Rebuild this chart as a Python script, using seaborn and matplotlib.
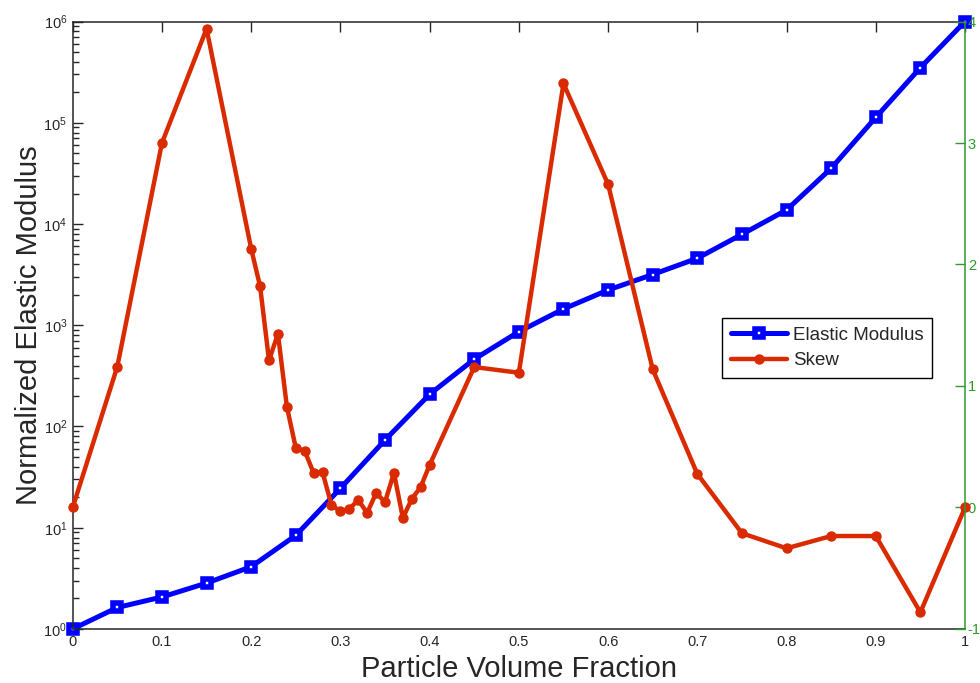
import matplotlib
matplotlib.use("Agg")
import matplotlib.pyplot as plt
from matplotlib.ticker import LogLocator, NullLocator, FixedLocator, FixedFormatter, NullFormatter
import seaborn as sns

# Elastic modulus (normalized) vs particle volume fraction
volume_fraction = [0.0, 0.05, 0.10, 0.15, 0.20, 0.25, 0.30, 0.35, 0.40, 0.45, 0.50,
                   0.55, 0.60, 0.65, 0.70, 0.75, 0.80, 0.85, 0.90, 0.95, 1.0]
elastic_modulus = [1.0, 1.63, 2.07, 2.84, 4.12, 8.4, 24.5, 73.5, 208, 462, 864,
                   1447, 2230, 3170, 4585, 7910, 13750, 35500, 113000, 350000, 1.0e6]

# Skew of the distribution (right axis)
skew_fraction = [0.0, 0.05, 0.10, 0.15, 0.20, 0.21, 0.22, 0.23, 0.24, 0.25, 0.26,
                 0.27, 0.28, 0.29, 0.30, 0.31, 0.32, 0.33, 0.34, 0.35, 0.36, 0.37,
                 0.38, 0.39, 0.40, 0.45, 0.50, 0.55, 0.60, 0.65, 0.70, 0.75, 0.80,
                 0.85, 0.90, 0.95, 1.0]
skew = [0.0, 1.16, 3.00, 3.94, 2.13, 1.82, 1.21, 1.43, 0.83, 0.49, 0.465,
        0.284, 0.29, 0.02, -0.03, -0.012, 0.062, -0.045, 0.119, 0.045, 0.284, -0.086,
        0.07, 0.169, 0.35, 1.156, 1.109, 3.49, 2.66, 1.137, 0.276, -0.212, -0.336,
        -0.235, -0.235, -0.863, 0.0]

x_ticks = [0.0, 0.1, 0.2, 0.3, 0.4, 0.5, 0.6, 0.7, 0.8, 0.9, 1.0]
x_tick_labels = ["0", "0.1", "0.2", "0.3", "0.4", "0.5", "0.6", "0.7", "0.8", "0.9", "1"]
left_ticks = [1, 10, 100, 1000, 1e4, 1e5, 1e6]
left_tick_labels = ["$10^{%d}$" % i for i in range(7)]
right_ticks = [-1, 0, 1, 2, 3, 4]
right_tick_labels = ["-1", "0", "1", "2", "3", "4"]

sns.set_style("white")
plt.rcParams["font.family"] = ["Liberation Sans", "DejaVu Sans"]
plt.rcParams["mathtext.fontset"] = "custom"
plt.rcParams["mathtext.rm"] = "Liberation Sans"
plt.rcParams["mathtext.default"] = "regular"
plt.rcParams["axes.unicode_minus"] = False

BLUE = "#0000FF"
RED = "#D92A00"
GREEN = "#2E9A2E"
AXIS = "#262626"

fig = plt.figure(figsize=(9.8, 6.83), dpi=100)
ax = fig.add_axes([0.0742, 0.0791, 0.9105, 0.8894])

sns.lineplot(x=volume_fraction, y=elastic_modulus, ax=ax, color=BLUE, lw=3.6,
             marker="s", markersize=6, markerfacecolor="white",
             markeredgecolor=BLUE, markeredgewidth=4.0, clip_on=False,
             label="Elastic Modulus", legend=False)
ax.set_yscale("log")
ax.set_xlim(0, 1)
ax.set_ylim(1, 1e6)

ax.xaxis.set_major_locator(FixedLocator(x_ticks))
ax.xaxis.set_major_formatter(FixedFormatter(x_tick_labels))
ax.xaxis.set_minor_locator(NullLocator())
ax.yaxis.set_major_locator(FixedLocator(left_ticks))
ax.yaxis.set_major_formatter(FixedFormatter(left_tick_labels))
ax.yaxis.set_minor_locator(LogLocator(base=10, subs=range(2, 10), numticks=20))
ax.yaxis.set_minor_formatter(NullFormatter())

ax.tick_params(axis="both", which="both", direction="in", top=True, right=True,
               labelright=False, color=AXIS, labelsize=10.5, width=1.0)
ax.tick_params(which="major", length=7, pad=4)
ax.tick_params(which="minor", length=4)
for s in ax.spines.values():
    s.set_color(AXIS)
    s.set_linewidth(1.1)
ax.spines["right"].set_visible(False)

ax.set_xlabel("Particle Volume Fraction", fontsize=21, labelpad=5)
ax.set_ylabel("Normalized Elastic Modulus", fontsize=21, labelpad=0)

ax2 = ax.twinx()
sns.lineplot(x=skew_fraction, y=skew, ax=ax2, color=RED, lw=3.2,
             marker="o", markersize=7.5, markeredgewidth=0, clip_on=False,
             label="Skew", legend=False)
ax2.set_ylim(-1, 4)
ax2.yaxis.set_major_locator(FixedLocator(right_ticks))
ax2.yaxis.set_major_formatter(FixedFormatter(right_tick_labels))
ax2.yaxis.set_minor_locator(NullLocator())
ax2.tick_params(axis="y", which="major", direction="in", length=7, width=1.0,
                colors=GREEN, labelsize=10.5, pad=2)
ax2.set_ylabel("")
for side in ("left", "top", "bottom"):
    ax2.spines[side].set_visible(False)
ax2.spines["right"].set_color(GREEN)
ax2.spines["right"].set_linewidth(1.1)

h1 = ax.get_lines()[0]
h2 = ax2.get_lines()[0]
leg = ax2.legend([h1, h2], ["Elastic Modulus", "Skew"], loc="upper left",
                 bbox_to_anchor=(0.728, 0.512), borderaxespad=0, fontsize=13.5,
                 frameon=True, fancybox=False, framealpha=1, edgecolor="black",
                 handlelength=3.0, handletextpad=0.3, borderpad=0.45,
                 labelspacing=0.45)
leg.get_frame().set_linewidth(1.0)

fig.savefig("out.png", dpi=100)
